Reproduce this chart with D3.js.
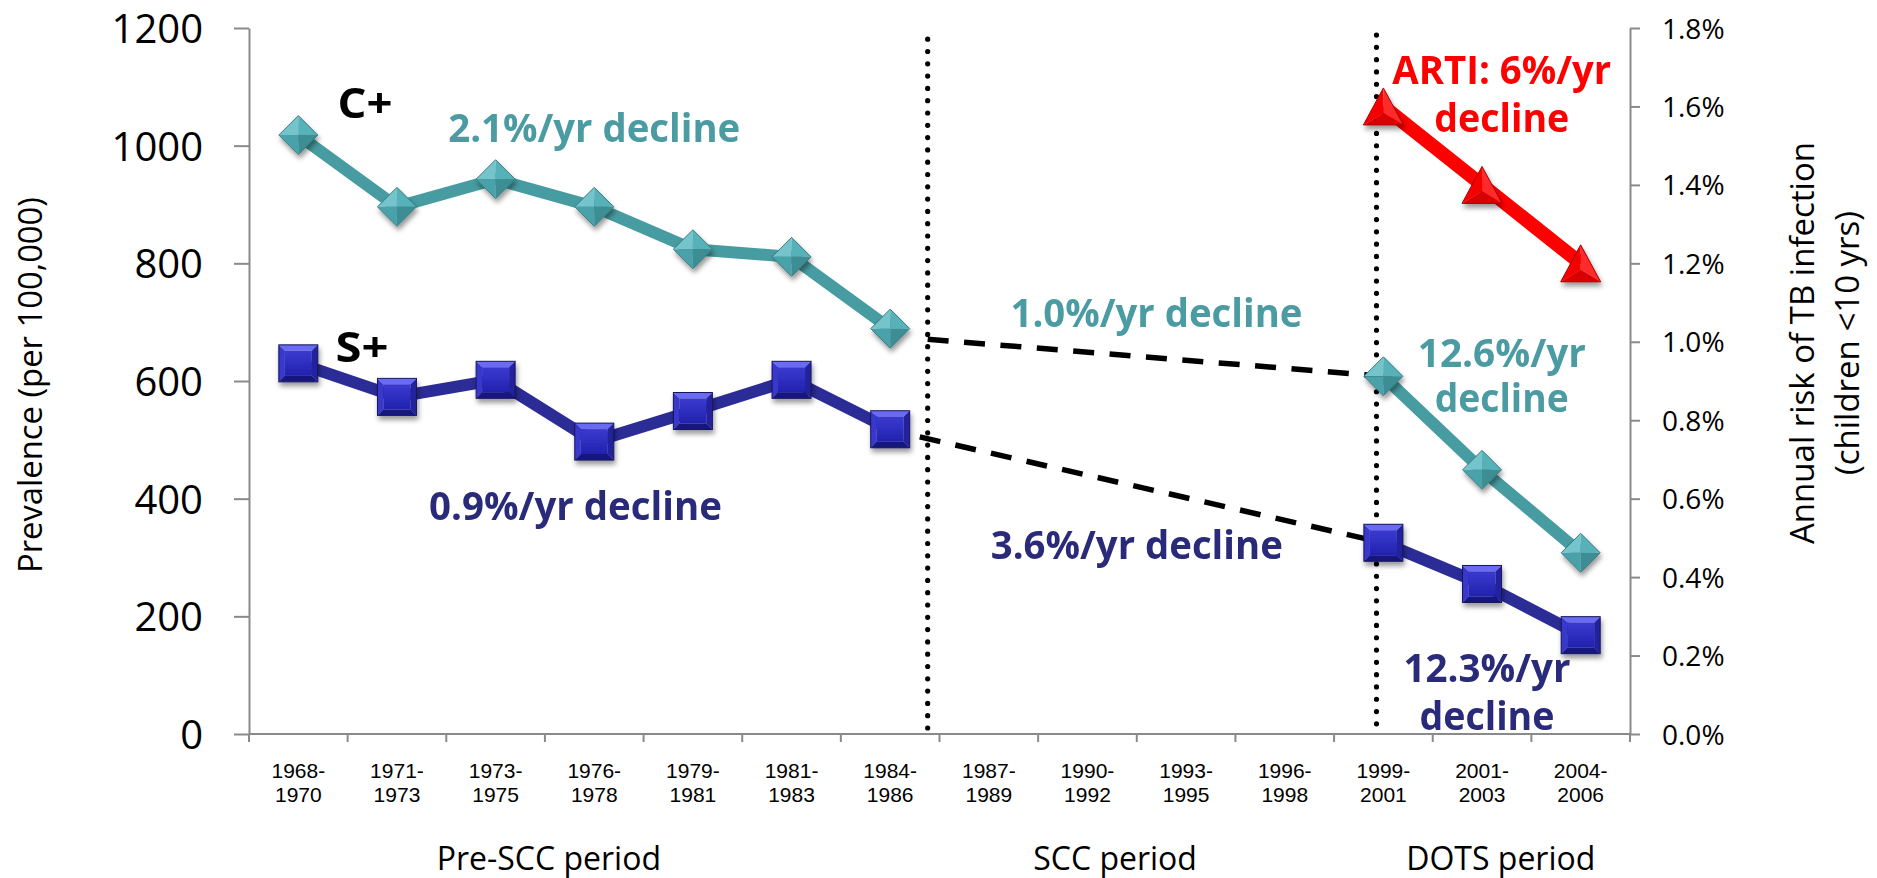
<!DOCTYPE html>
<html>
<head>
<meta charset="utf-8">
<script src="https://cdn.jsdelivr.net/npm/d3@7/dist/d3.min.js"></script>
<style>
  html, body { margin: 0; padding: 0; background: #fff; }
  svg { display: block; }
</style>
</head>
<body>
<svg id="chart" width="1877" height="878"></svg>
<script>
// Survey periods on the x axis
const categories = ["1968-1970", "1971-1973", "1973-1975", "1976-1978", "1979-1981",
  "1981-1983", "1984-1986", "1987-1989", "1990-1992", "1993-1995", "1996-1998",
  "1999-2001", "2001-2003", "2004-2006"];

// Culture-positive prevalence (per 100,000)
const culturePositive = [1018, 896, 943, 896, 824, 811, 689, null, null, null, null, 608, 449, 308];
// Smear-positive prevalence (per 100,000)
const smearPositive = [630, 573, 602, 497, 549, 602, 518, null, null, null, null, 325, 255, 168];
// Annual risk of TB infection, children <10 yrs (%)
const artiPercent = [null, null, null, null, null, null, null, null, null, null, null, 1.6, 1.4, 1.2];

// Left and right axis ticks
const leftTicks = [0, 200, 400, 600, 800, 1000, 1200];
const rightTicks = [0, 0.2, 0.4, 0.6, 0.8, 1.0, 1.2, 1.4, 1.6, 1.8];

// Trend values where the SCC-period dashed lines begin
const sccStartCulture = 671;
const sccStartSmear = 505;

// Period labels under the axis
const periodLabels = ["Pre-SCC period", "SCC period", "DOTS period"];

const svg = d3.select("#chart");
const defs = svg.append("defs");

// soft shadow under the markers
const shadow = defs.append("filter").attr("id", "markShadow")
  .attr("x", "-50%").attr("y", "-50%").attr("width", "200%").attr("height", "200%");
shadow.append("feDropShadow").attr("dx", 1.5).attr("dy", 4).attr("stdDeviation", 2.6)
  .attr("flood-color", "#000").attr("flood-opacity", 0.4);

const x = d3.scaleBand().domain(categories).range([249, 1630]).padding(0);
const y = d3.scaleLinear().domain([0, 1200]).range([734, 28]);
const yR = d3.scaleLinear().domain([0, 1.8]).range([734, 28]);
const cx = c => x(c) + x.bandwidth() / 2;
const atBand = (i, frac) => x(categories[i]) + frac * x.bandwidth();

const AXIS = "#8a8a8a";
const TEAL = "#479ca2";
const TEAL_TEXT = "#4a9ba2";
const NAVY = "#2c2c96";
const NAVY_TEXT = "#2a2a7a";
const RED = "#ff0000";

// ---- left axis
const gL = svg.append("g").attr("transform", "translate(249,0)")
  .call(d3.axisLeft(y).tickValues(leftTicks).tickFormat(d3.format("d"))
    .tickSize(15).tickSizeOuter(0).tickPadding(31));
gL.select(".domain").attr("stroke", AXIS).attr("stroke-width", 2);
gL.selectAll(".tick line").attr("stroke", AXIS).attr("stroke-width", 2);
gL.selectAll(".tick text").attr("font-family", "'Open Sans', sans-serif")
  .attr("font-size", 40).attr("fill", "#000").attr("dy", "0.36em");

// ---- right axis
const gR = svg.append("g").attr("transform", "translate(1630,0)")
  .call(d3.axisRight(yR).tickValues(rightTicks).tickSize(10).tickSizeOuter(0).tickPadding(22)
    .tickFormat(d => d.toFixed(1) + "%"));
gR.select(".domain").attr("stroke", AXIS).attr("stroke-width", 2);
gR.selectAll(".tick line").attr("stroke", AXIS).attr("stroke-width", 2);
gR.selectAll(".tick text").attr("font-family", "'Open Sans', sans-serif")
  .attr("font-size", 28).attr("fill", "#000").attr("dy", "0.36em");

// ---- x axis: baseline, boundary ticks, two-line category labels
const gX = svg.append("g");
gX.append("line").attr("x1", 249).attr("x2", 1630).attr("y1", y(0)).attr("y2", y(0))
  .attr("stroke", AXIS).attr("stroke-width", 2);
const edges = categories.map(c => x(c)).concat([x.range()[1]]);
gX.selectAll("line.tk").data(edges).join("line").attr("class", "tk")
  .attr("x1", d => d).attr("x2", d => d).attr("y1", y(0)).attr("y2", y(0) + 8)
  .attr("stroke", AXIS).attr("stroke-width", 2);
const catText = gX.selectAll("text.cat").data(categories).join("text").attr("class", "cat")
  .attr("font-family", "'Liberation Sans', Arial, sans-serif").attr("font-size", 21)
  .attr("text-anchor", "middle").attr("fill", "#000");
catText.append("tspan").attr("x", d => cx(d)).attr("y", 778).text(d => d.split("-")[0] + "-");
catText.append("tspan").attr("x", d => cx(d)).attr("y", 802).text(d => d.split("-")[1]);

// period labels
const periodPos = [atBand(3, 0.04), atBand(8, 0.78), atBand(12, 0.69)];
svg.selectAll("text.period").data(periodLabels).join("text").attr("class", "period")
  .attr("x", (d, i) => periodPos[i]).attr("y", 870).attr("text-anchor", "middle")
  .attr("font-family", "'Open Sans', sans-serif").attr("font-size", 32).attr("fill", "#000")
  .text(d => d);

// axis titles
svg.append("text").attr("transform", "translate(42,385) rotate(-90)")
  .attr("text-anchor", "middle").attr("font-family", "'Open Sans', sans-serif")
  .attr("font-size", 33).attr("fill", "#000").attr("textLength", 376).attr("lengthAdjust", "spacingAndGlyphs")
  .text("Prevalence (per 100,000)");
const rt = svg.append("text").attr("transform", "translate(1814,343) rotate(-90)")
  .attr("text-anchor", "middle").attr("font-family", "'Open Sans', sans-serif")
  .attr("font-size", 33).attr("fill", "#000");
rt.append("tspan").attr("x", 0).attr("y", 0).text("Annual risk of TB infection");
rt.append("tspan").attr("x", 0).attr("y", 45).text("(children <10 yrs)");

// ---- period dividers (dotted)
const dividers = [
  { x: atBand(6, 0.88), top: 1181 },
  { x: atBand(11, 0.43), top: 1188 }
];
svg.selectAll("line.div").data(dividers).join("line").attr("class", "div")
  .attr("x1", d => d.x).attr("x2", d => d.x).attr("y1", d => y(d.top)).attr("y2", y(0) - 2)
  .attr("stroke", "#000").attr("stroke-width", 5.2).attr("stroke-linecap", "round")
  .attr("stroke-dasharray", "0,12.3");

// ---- dashed SCC-period trends
const i99 = categories.indexOf("1999-2001");
const trends = [
  { x0: atBand(6, 0.88), v0: sccStartCulture, v1: culturePositive[i99] },
  { x0: atBand(6, 0.80), v0: sccStartSmear, v1: smearPositive[i99] }
];
svg.selectAll("line.trend").data(trends).join("line").attr("class", "trend")
  .attr("x1", d => d.x0).attr("y1", d => y(d.v0))
  .attr("x2", cx(categories[i99])).attr("y2", d => y(d.v1))
  .attr("stroke", "#000").attr("stroke-width", 5.5).attr("stroke-dasharray", "21,15.5");

// ---- series lines
const pts = (vals, scale) => categories.map((c, i) => vals[i] == null ? null : [cx(c), scale(vals[i])]);
const lineGen = d3.line().defined(d => d != null);
svg.append("path").attr("d", lineGen(pts(culturePositive, y))).attr("fill", "none")
  .attr("stroke", TEAL).attr("stroke-width", 12).attr("stroke-linejoin", "round");
svg.append("path").attr("d", lineGen(pts(smearPositive, y))).attr("fill", "none")
  .attr("stroke", NAVY).attr("stroke-width", 12).attr("stroke-linejoin", "round");
svg.append("path").attr("d", lineGen(pts(artiPercent, yR))).attr("fill", "none")
  .attr("stroke", RED).attr("stroke-width", 14).attr("stroke-linejoin", "round");

// ---- markers
function diamond(g) {
  const h = 19.5;
  const T = [0, -h], R = [h, 0], B = [0, h], L = [-h, 0], C = [0, 0];
  const facets = [[L, T, C, "#74c4cb"], [T, R, C, "#56b1b8"], [R, B, C, "#3c8d94"], [B, L, C, "#49a2a9"]];
  facets.forEach(f => g.append("path").attr("d", "M" + f.slice(0, 3).map(p => p.join(",")).join("L") + "Z")
    .attr("fill", f[3]));
  g.append("path").attr("d", `M0,${-h}L${h},0L0,${h}L${-h},0Z`).attr("fill", "none")
    .attr("stroke", "#3a7c82").attr("stroke-width", 1);
}
function square(g) {
  const w = 39, h = 37, b = 6, x0 = -w / 2, y0 = -h / 2, x1 = w / 2, y1 = h / 2;
  const poly = (p, fill) => g.append("path").attr("d", "M" + p.map(q => q.join(",")).join("L") + "Z").attr("fill", fill);
  poly([[x0, y0], [x1, y0], [x1 - b, y0 + b], [x0 + b, y0 + b]], "#6a6af2");
  poly([[x0, y0], [x0 + b, y0 + b], [x0 + b, y1 - b], [x0, y1]], "#3737cc");
  poly([[x1, y0], [x1, y1], [x1 - b, y1 - b], [x1 - b, y0 + b]], "#22229c");
  poly([[x0, y1], [x0 + b, y1 - b], [x1 - b, y1 - b], [x1, y1]], "#18187f");
  g.append("rect").attr("x", x0 + b).attr("y", y0 + b).attr("width", w - 2 * b).attr("height", h - 2 * b)
    .attr("fill", "url(#sqFace)");
  g.append("rect").attr("x", x0).attr("y", y0).attr("width", w).attr("height", h)
    .attr("fill", "none").attr("stroke", "#161660").attr("stroke-width", 1);
}
function triangle(g) {
  const hw = 20, hh = 18.5;
  const A = [0, -hh], BL = [-hw, hh], BR = [hw, hh], C = [0, hh * 0.35];
  const poly = (p, fill) => g.append("path").attr("d", "M" + p.map(q => q.join(",")).join("L") + "Z").attr("fill", fill);
  poly([A, BL, C], "#f40000");
  poly([A, C, BR], "#ff2a2a");
  poly([BL, BR, C], "#d80000");
  g.append("path").attr("d", `M${A}L${BL}L${BR}Z`).attr("fill", "none")
    .attr("stroke", "#a80000").attr("stroke-width", 1);
}
const sqGrad = defs.append("linearGradient").attr("id", "sqFace").attr("x1", 0).attr("y1", 0).attr("x2", 0).attr("y2", 1);
sqGrad.append("stop").attr("offset", "0%").attr("stop-color", "#3a3ad0");
sqGrad.append("stop").attr("offset", "100%").attr("stop-color", "#2222ae");

function drawMarkers(vals, scale, shape) {
  svg.append("g").attr("filter", "url(#markShadow)")
    .selectAll("g").data(pts(vals, scale).filter(d => d != null)).join("g")
    .attr("transform", d => `translate(${d[0]},${d[1]})`)
    .each(function () { shape(d3.select(this)); });
}
drawMarkers(culturePositive, y, diamond);
drawMarkers(smearPositive, y, square);
drawMarkers(artiPercent, yR, triangle);

// ---- annotations (multi-line ones share one text element)
function note(lines, xPos, yPos, color, lens, size = 40, lineGap = 48) {
  const el = svg.append("text").attr("text-anchor", "middle")
    .attr("font-family", "'Open Sans', sans-serif").attr("font-weight", 700)
    .attr("font-size", size).attr("fill", color);
  lines.forEach((t, i) => {
    const ts = el.append("tspan").attr("x", xPos).attr("y", yPos + i * lineGap).text(t);
    if (lens[i]) ts.attr("textLength", lens[i]).attr("lengthAdjust", "spacingAndGlyphs");
  });
  return el;
}
note(["C+"], 365, 118, "#000", [55], 42);
note(["S+"], 362, 362, "#000", [53], 42);
note(["2.1%/yr decline"], cx(categories[3]), 142, TEAL_TEXT, [292]);
note(["1.0%/yr decline"], atBand(9, 0.2), 327, TEAL_TEXT, [292]);
note(["0.9%/yr decline"], atBand(3, 0.31), 520, NAVY_TEXT, [293]);
note(["3.6%/yr decline"], atBand(9, 0.0), 559, NAVY_TEXT, [292]);
note(["ARTI: 6%/yr", "decline"], atBand(12, 0.7), 84, RED, [219, 135]);
note(["12.6%/yr", "decline"], atBand(12, 0.7), 367, TEAL_TEXT, [168, 134], 40, 45);
note(["12.3%/yr", "decline"], atBand(12, 0.55), 682, NAVY_TEXT, [167, 135]);
</script>
</body>
</html>
